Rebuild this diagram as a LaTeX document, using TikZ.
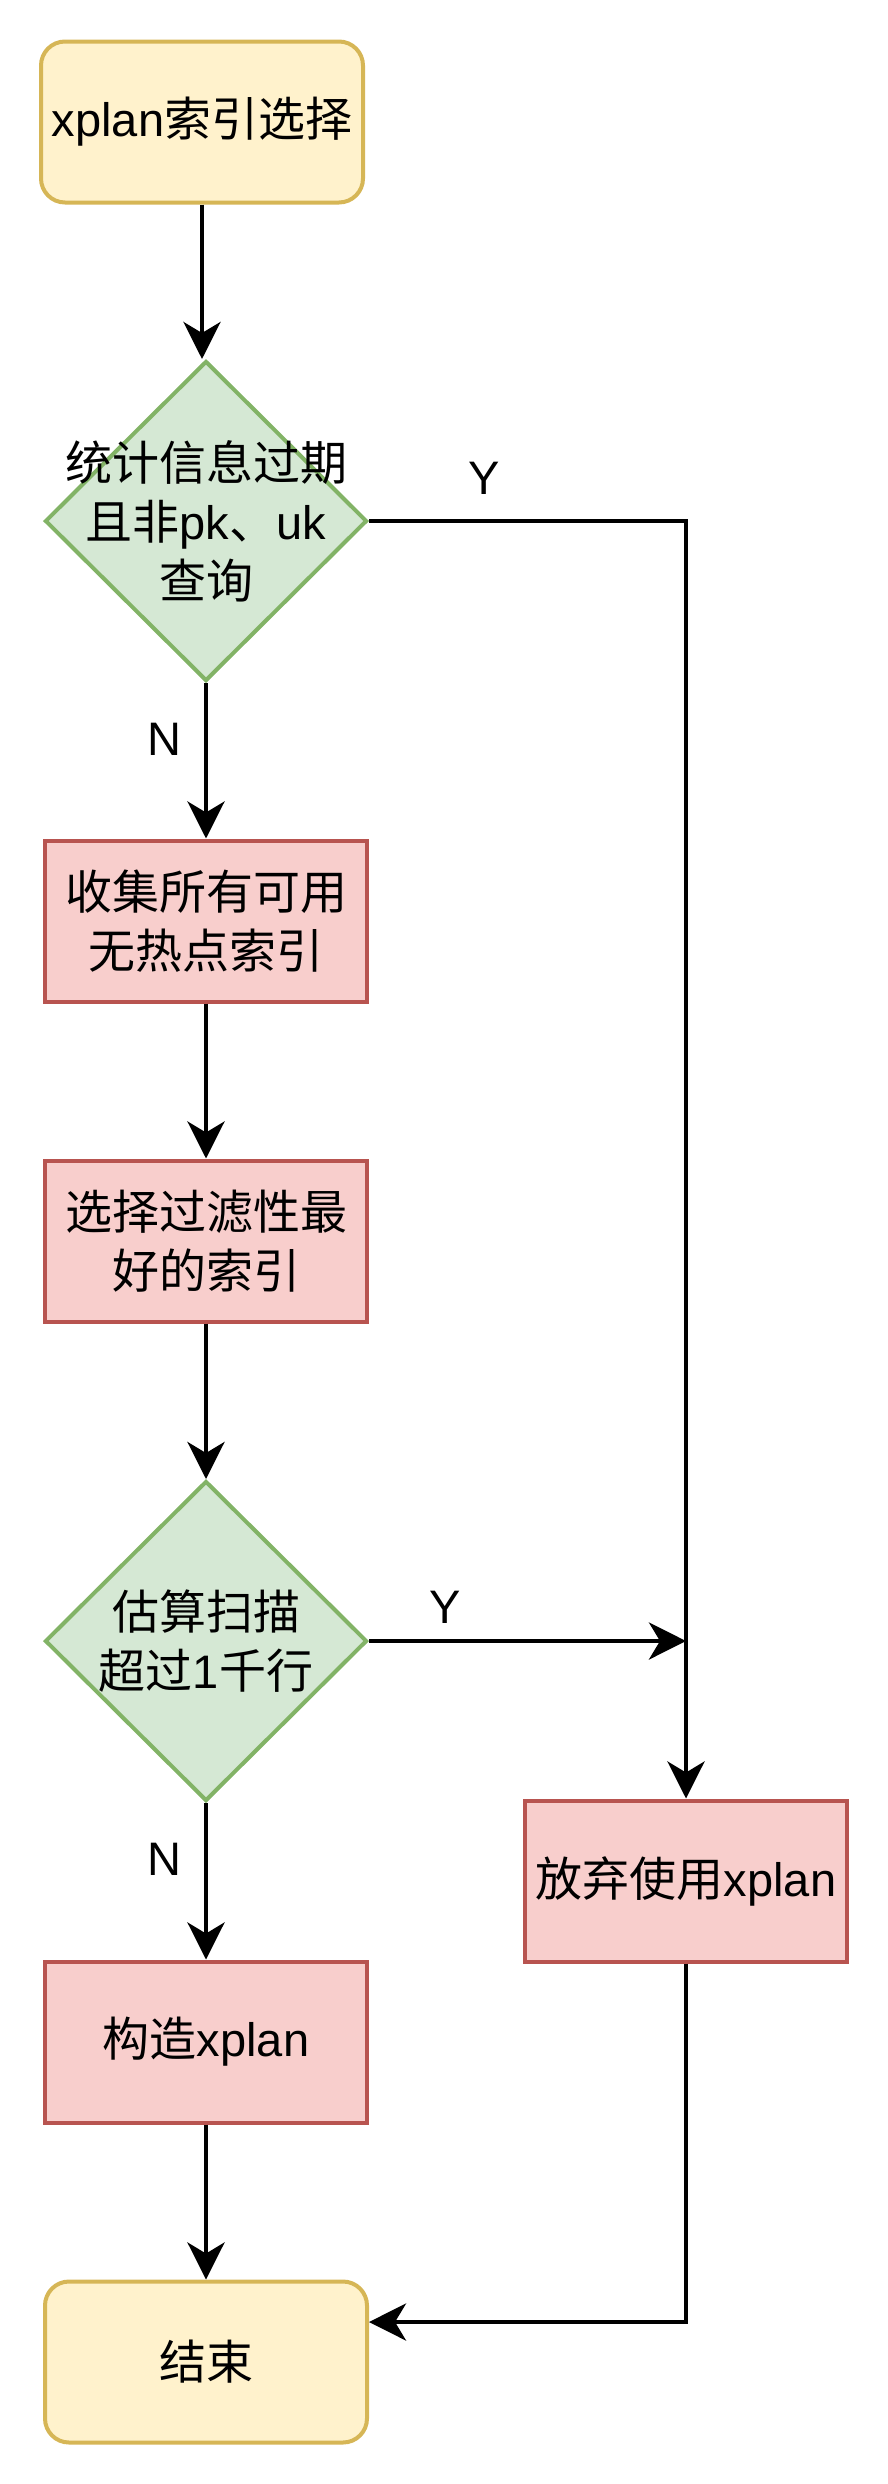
\documentclass[tikz,border=0pt]{standalone}
\usepackage{fontspec}
\setmainfont{Liberation Sans}
\newfontfamily\zh{Noto Sans CJK SC}
\usetikzlibrary{arrows.meta,positioning,shapes.geometric}
\definecolor{TermFill}{HTML}{FFF2CC}
\definecolor{TermLine}{HTML}{D6B656}
\definecolor{CondFill}{HTML}{D5E8D4}
\definecolor{CondLine}{HTML}{82B366}
\definecolor{ActFill}{HTML}{F8CECC}
\definecolor{ActLine}{HTML}{B85450}

\begin{document}
\begin{tikzpicture}[
        x=1pt, y=-1pt,
        font=\fontsize{47}{59}\selectfont,
        terminal/.style={
            draw=TermLine,
            fill=TermFill,
            line width=4pt,
            rounded corners=24pt,
            align=center,
            minimum width=322pt,
            minimum height=161pt,
            inner sep=2pt
        },
        action/.style={
            terminal,
            draw=ActLine,
            fill=ActFill,
            rounded corners=0pt
        },
        decision/.style={
            diamond,
            draw=CondLine,
            fill=CondFill,
            line width=4pt,
            minimum width=322pt,
            minimum height=320pt,
            inner sep=0pt
        },
        arrow/.style={
            -{Stealth[length=37pt,width=37pt,inset=11pt]},
            draw=black,
            line width=4.5pt
        },
        answer/.style={
            font=\fontsize{47}{59}\selectfont
        }
    ]

    \useasboundingbox (0,0) rectangle (888,2484);

    % Main column
    \node[terminal] (start) at (202,122) {xplan{\zh 索引选择}};
    \node[decision, label={[align=center]center:{\zh 统计信息过期}\\{\zh 且非}pk{\zh 、}uk\\{\zh 查询}}] (stale) at (206,521) {};
    \node[action] (collect) at (206,921) {{\zh 收集所有可用}\\{\zh 无热点索引}};
    \node[action] (pick) at (206,1241) {{\zh 选择过滤性最}\\{\zh 好的索引}};
    \node[decision, label={[align=center]center:{\zh 估算扫描}\\{\zh 超过}1{\zh 千行}}] (scan) at (206,1641) {};
    \node[action] (build) at (206,2042) {{\zh 构造}xplan};
    \node[terminal] (finish) at (206,2362) {{\zh 结束}};

    % Right column
    \node[action] (giveup) at (686,1881) {{\zh 放弃使用}xplan};
    \coordinate (merge) at (scan.east -| giveup);

    \draw[arrow] (start.south -| 202,0) -- (stale.north -| 202,0);
    \draw[arrow] (stale.south) -- (collect.north);
    \draw[arrow] (collect.south) -- (pick.north);
    \draw[arrow] (pick.south) -- (scan.north);
    \draw[arrow] (scan.south) -- (build.north);
    \draw[arrow] (build.south) -- (finish.north);

    \draw[arrow] (stale.east) -- (stale.east -| giveup) -- (giveup.north);
    \draw[arrow] (scan.east) -- (merge);
    \draw[arrow] (giveup.south) |- ([yshift=40pt]finish.east);

    % Branch labels
    \node[answer] (y1) at (484,478) {Y};
    \node[answer] (n1) at (164,739) {N};
    \node[answer] (y2) at (445,1607) {Y};
    \node[answer] (n2) at (164,1859) {N};

\end{tikzpicture}
\end{document}
